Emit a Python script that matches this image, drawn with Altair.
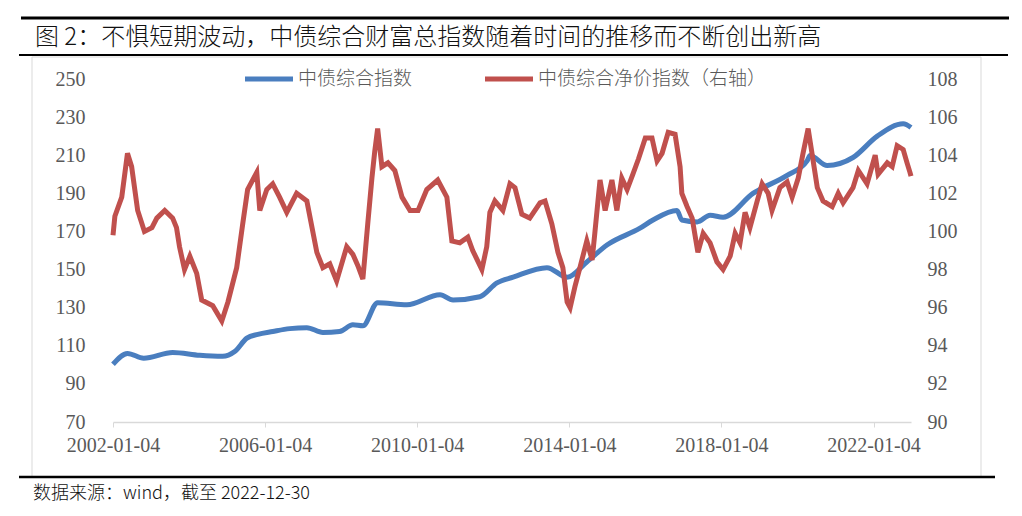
import altair as alt
import pandas as pd

# ---------------- data ----------------
blue_dates = ["2002-01-04", "2002-05-23", "2002-10-26", "2003-07-31", "2004-04-16", "2004-11-22",
              "2005-03-18", "2005-07-13", "2005-10-26", "2006-03-18", "2006-08-29", "2007-02-09",
              "2007-07-13", "2007-12-20", "2008-04-26", "2008-07-31", "2008-12-20", "2009-09-27",
              "2010-08-11", "2010-12-14", "2011-08-29", "2012-02-09", "2012-07-13", "2013-06-03",
              "2013-12-14", "2014-06-21", "2015-01-04", "2015-11-14", "2016-03-18", "2016-11-03",
              "2016-12-20", "2017-05-16", "2017-09-17", "2018-01-20", "2018-11-03", "2019-09-27",
              "2020-04-06", "2020-05-05", "2020-10-16", "2021-06-21", "2022-02-09", "2022-10-16",
              "2022-12-30"]
blue_values = [100.3, 106.0, 103.5, 106.5, 105.0, 104.5,
               107.0, 114.0, 116.0, 117.5, 119.0, 119.5,
               117.0, 117.5, 121.0, 120.5, 132.6, 131.5,
               136.8, 134.0, 135.7, 143.0, 146.0, 151.0,
               146.0, 154.0, 163.0, 171.7, 176.0, 181.0,
               176.0, 175.0, 178.5, 177.5, 190.0, 199.4,
               207.0, 209.8, 204.6, 208.8, 220.0, 226.5,
               224.5]

red_dates = ["2002-01-04", "2002-01-22", "2002-03-29", "2002-05-23", "2002-07-02", "2002-08-29",
             "2002-11-02", "2003-01-13", "2003-03-01", "2003-05-16", "2003-07-31", "2003-09-06",
             "2003-10-05", "2003-11-22", "2004-01-12", "2004-03-18", "2004-05-05", "2004-08-19",
             "2004-11-14", "2005-01-12", "2005-04-06", "2005-06-03", "2005-07-20", "2005-10-16",
             "2005-11-14", "2006-01-20", "2006-03-18", "2006-05-23", "2006-07-31", "2006-11-03",
             "2007-02-09", "2007-05-16", "2007-07-13", "2007-09-17", "2007-11-22", "2008-02-27",
             "2008-04-26", "2008-06-13", "2008-07-31", "2008-09-16", "2008-10-26", "2008-11-22",
             "2008-12-20", "2009-01-30", "2009-03-29", "2009-06-03", "2009-08-11", "2009-10-27",
             "2010-01-12", "2010-04-06", "2010-07-20", "2010-10-16", "2010-12-03", "2011-02-17",
             "2011-05-05", "2011-06-21", "2011-09-17", "2011-11-03", "2011-12-03", "2012-01-20",
             "2012-04-06", "2012-06-13", "2012-07-31", "2012-10-05", "2012-12-20", "2013-03-29",
             "2013-05-16", "2013-07-20", "2013-09-17", "2013-11-03", "2013-12-14", "2014-01-12",
             "2014-02-27", "2014-04-16", "2014-06-21", "2014-08-11", "2014-09-06", "2014-10-26",
             "2014-12-14", "2015-02-17", "2015-04-06", "2015-05-23", "2015-07-13", "2015-09-06",
             "2015-10-30", "2016-01-04", "2016-03-08", "2016-04-26", "2016-06-13", "2016-08-11",
             "2016-10-16", "2016-12-03", "2016-12-20", "2017-02-09", "2017-03-29", "2017-05-23",
             "2017-07-13", "2017-09-17", "2017-11-22", "2018-01-20", "2018-03-29", "2018-05-16",
             "2018-07-02", "2018-08-19", "2018-10-05", "2018-12-14", "2019-01-30", "2019-03-29",
             "2019-05-05", "2019-07-20", "2019-09-27", "2019-11-14", "2020-01-12", "2020-02-27",
             "2020-04-16", "2020-05-23", "2020-07-13", "2020-09-06", "2020-12-03", "2021-01-30",
             "2021-03-18", "2021-06-21", "2021-08-11", "2021-11-03", "2022-01-20", "2022-02-17",
             "2022-05-16", "2022-07-02", "2022-08-19", "2022-10-16", "2022-11-22", "2022-12-20",
             "2022-12-30"]
red_values = [99.8, 100.8, 101.8, 104.1, 103.4, 101.1,
              100.0, 100.2, 100.7, 101.1, 100.7, 100.2,
              99.2, 98.0, 98.7, 97.8, 96.4, 96.1,
              95.3, 96.3, 98.1, 100.4, 102.2, 103.1,
              101.1, 102.2, 102.5, 101.8, 101.0, 102.0,
              101.6, 98.9, 98.1, 98.3, 97.4, 99.2,
              98.8, 98.2, 97.5, 100.4, 102.8, 104.2,
              105.4, 103.4, 103.6, 103.2, 101.8, 101.1,
              101.1, 102.2, 102.7, 101.8, 99.5, 99.4,
              99.7, 99.0, 98.0, 99.2, 101.0, 101.6,
              101.1, 102.5, 102.3, 100.9, 100.7, 101.5,
              101.6, 100.4, 98.9, 98.1, 96.3, 96.0,
              97.1, 98.1, 99.5, 98.5, 99.9, 102.7,
              101.1, 102.7, 101.1, 102.8, 102.2, 103.0,
              103.8, 104.9, 104.9, 103.7, 104.1, 105.2,
              105.1, 103.4, 102.0, 101.3, 100.7, 98.9,
              99.9, 99.4, 98.4, 98.0, 98.7, 99.9,
              99.4, 101.0, 100.2, 101.6, 102.5, 102.0,
              101.1, 102.3, 102.6, 101.8, 102.8, 104.1,
              105.4, 104.1, 102.3, 101.6, 101.3, 102.0,
              101.5, 102.3, 103.2, 102.5, 104.0, 103.0,
              103.6, 103.4, 104.5, 104.3, 103.6, 103.1,
              102.9]

left_ticks = [70, 90, 110, 130, 150, 170, 190, 210, 230, 250]
right_ticks = [90, 92, 94, 96, 98, 100, 102, 104, 106, 108]
x_tick_years = [2002, 2006, 2010, 2014, 2018, 2022]

title_text = "图 2：不惧短期波动，中债综合财富总指数随着时间的推移而不断创出新高"
source_text = "数据来源：wind，截至 2022-12-30"
name_blue = "中债综合指数"
name_red = "中债综合净价指数（右轴）"

BLUE = "#4a7ebf"
RED = "#c0504d"
GREY_TXT = "#595959"
SERIF = "Liberation Serif"
CJK = "Noto Sans CJK SC"

blue_df = pd.DataFrame({"date": blue_dates, "value": blue_values})
red_df = pd.DataFrame({"date": red_dates, "value": red_values})
one = pd.DataFrame({"k": [0]})

x_scale = alt.Scale(type="utc",
                    domain=[alt.DateTime(year=2002, month=1, date=4, utc=True),
                            alt.DateTime(year=2022, month=12, date=30, utc=True)])
x_axis = alt.Axis(values=[alt.DateTime(year=y, month=1, date=4, utc=True) for y in x_tick_years],
                  format="%Y-%m-%d", title=None, grid=False,
                  domainColor="#d9d9d9", domainWidth=1.5, tickColor="#d9d9d9", tickSize=5,
                  labelFont=SERIF, labelFontSize=20, labelColor=GREY_TXT, labelPadding=8,
                  labelOverlap=False, labelFlush=False)

blue_line = alt.Chart(blue_df).mark_line(color=BLUE, strokeWidth=5, interpolate="monotone").encode(
    x=alt.X("date:T", scale=x_scale, axis=x_axis),
    y=alt.Y("value:Q", scale=alt.Scale(domain=[70, 250], nice=False, zero=False),
            axis=alt.Axis(values=left_ticks, title=None, grid=False, domain=False, ticks=False,
                          labelFont=SERIF, labelFontSize=20, labelColor=GREY_TXT,
                          labelPadding=28, orient="left")),
)

red_line = alt.Chart(red_df).mark_line(color=RED, strokeWidth=5).encode(
    x=alt.X("date:T", scale=x_scale, axis=x_axis),
    y=alt.Y("value:Q", scale=alt.Scale(domain=[90, 108], nice=False, zero=False),
            axis=alt.Axis(values=right_ticks, title=None, grid=False, domain=False, ticks=False,
                          labelFont=SERIF, labelFontSize=20, labelColor=GREY_TXT,
                          labelPadding=16, orient="right")),
)

# ---------- decorations (frame, rules, title, legend, source) ----------
frame = alt.Chart(one).mark_rect(fill="white", fillOpacity=0, stroke="#d9d9d9", strokeWidth=1).encode(
    x=alt.value(-81), x2=alt.value(868), y=alt.value(-22), y2=alt.value(398))

def hrule(x1, x2, y, w):
    return alt.Chart(one).mark_rule(color="black", strokeWidth=w).encode(
        x=alt.value(x1), x2=alt.value(x2), y=alt.value(y))

top_rule = hrule(-92, 896, -61, 3)
mid_rule = hrule(-94, 895, -24, 2)
bot_rule = hrule(-94, 882, 398, 2.5)

def label(txt, x, y, size, color, weight=400, font=CJK):
    return alt.Chart(one).mark_text(align="left", baseline="middle", fontSize=size,
                                    color=color, font=font, fontWeight=weight).encode(
        x=alt.value(x), y=alt.value(y), text=alt.value(txt))

title = label(title_text, -78, -41, 24, "#111111", weight=300)
source = label(source_text, -80, 415, 18, "#111111", weight=300)

leg_blue = alt.Chart(one).mark_rule(color=BLUE, strokeWidth=5).encode(
    x=alt.value(132), x2=alt.value(180), y=alt.value(0))
leg_red = alt.Chart(one).mark_rule(color=RED, strokeWidth=5).encode(
    x=alt.value(372), x2=alt.value(420), y=alt.value(0))
leg_blue_t = label(name_blue, 185, 0, 19, GREY_TXT, weight=300)
leg_red_t = label(name_red, 425, 0, 19, GREY_TXT, weight=300)

chart = alt.layer(
    frame, top_rule, mid_rule, bot_rule, title, source,
    blue_line, red_line,
    leg_blue, leg_red, leg_blue_t, leg_red_t,
).resolve_scale(y="independent").properties(
    width=798, height=343,
    padding={"left": 105, "top": 71, "right": 103, "bottom": 86},
    autosize=alt.AutoSizeParams(type="none"),
    background="white",
).configure_view(stroke=None)

chart.save("out.html", embed_options={"renderer": "svg", "actions": False})
